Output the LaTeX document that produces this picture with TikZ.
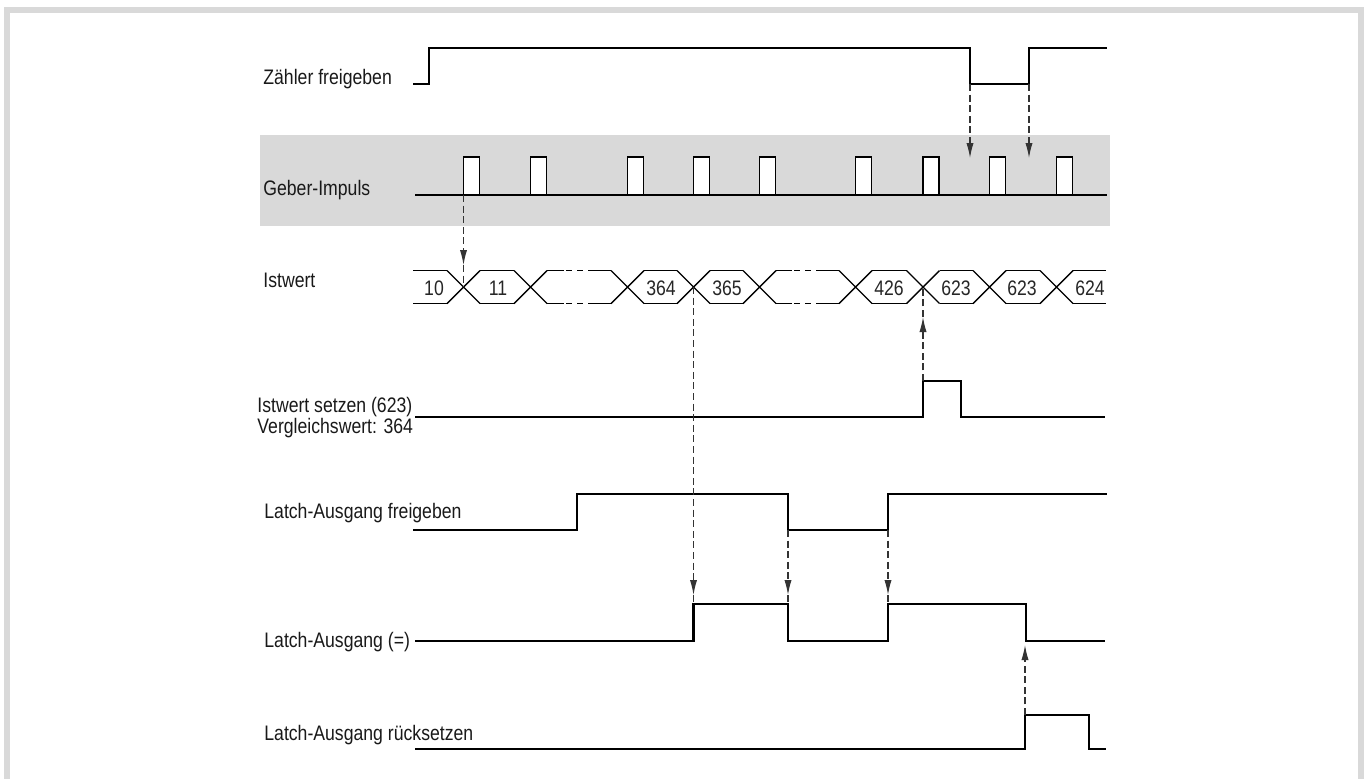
\documentclass[tikz,border=0pt]{standalone}
\usepackage{fontspec}
\setmainfont{Liberation Sans}[FakeStretch=0.84]
\usetikzlibrary{arrows.meta}

\begin{document}
\begin{tikzpicture}[x=0.5pt,y=-0.5pt,font=\fontsize{10.5}{12}\selectfont,
  sig/.style={line width=1.3pt,line join=miter},
  bus/.style={line width=0.7pt},
  pulse/.style={draw,line width=0.7pt,fill=white},
  lbl/.style={anchor=base west,inner sep=0pt,text=black!90},
  val/.style={anchor=base,inner sep=0pt,text=black!85},
  dline/.style={dash pattern=on 3.5pt off 1.8pt,line width=0.6pt,draw=black!80},
  conn/.style={dline,-{Latex[length=7.5pt,width=3.6pt]}}]
\useasboundingbox (0,0) rectangle (1367,778);
% frame and band
\draw[line width=3pt,gray!30] (7,800) -- (7,10) -- (1361,10) -- (1361,800);
\fill[gray!30] (260,135) rectangle (1110,226);

% labels
\node[lbl] (lblzf) at (263,84) {Zähler freigeben};
\node[lbl] (lblgp) at (263,195) {Geber-Impuls};
\node[lbl] (lbliw) at (263,287) {Istwert};
\node[lbl] (lblset) at (257,412) {Istwert setzen (623)};
\node[lbl] (lblcmp) at (257,433) {Vergleichswert: 364};
\node[lbl] (lbllf) at (264,518) {Latch-Ausgang freigeben};
\node[lbl] (lbllq) at (264,647) {Latch-Ausgang (=)};
\node[lbl] (lbllr) at (264,740) {Latch-Ausgang rücksetzen};

% signals
\draw[sig] (413,84) -- (429,84) -- (429,48) -- (970,48) -- (970,84) -- (1029,84) -- (1029,48) -- (1107,48);
\draw[sig] (415,195) -- (1107,195);
\draw[pulse] (463.5,157) rectangle +(16,38) (530.5,157) rectangle +(16,38)
  (627.5,157) rectangle +(16,38) (693.5,157) rectangle +(16,38)
  (759.5,157) rectangle +(16,38) (855.5,157) rectangle +(16,38)
  (923,157) rectangle +(16,38) (989.5,157) rectangle +(16,38)
  (1056.5,157) rectangle +(16,38);
\draw[sig] (415,417) -- (923,417) -- (923,381) -- (961,381) -- (961,417) -- (1105,417);
\draw[sig] (413,530) -- (577,530) -- (577,494) -- (788,494) -- (788,530) -- (888,530) -- (888,494) -- (1107,494);
\draw[sig] (415,641) -- (693.5,641) -- (693.5,604) -- (788,604) -- (788,641) -- (888,641) -- (888,604) -- (1026,604) -- (1026,641) -- (1105,641);
\draw[sig] (415,749) -- (1025,749) -- (1025,715) -- (1089,715) -- (1089,749) -- (1106,749);

% Istwert bus
\foreach \c in {463.5,530.5,627.5,693.5,759.5,855.5,923,989.5,1056.5}
  \draw[bus] (\c-16.5,270.5) -- (\c+16.5,303.5) (\c-16.5,303.5) -- (\c+16.5,270.5);
\foreach \a/\b in {413/447,480/514,644/677,710/743,872/906.5,939.5/973,1006/1040,1073/1106}
  \draw[bus] (\a,270.5) -- (\b,270.5) (\a,303.5) -- (\b,303.5);
\draw[bus] (547,270.5) -- (564,270.5) (593,270.5) -- (611,270.5)
  (547,303.5) -- (564,303.5) (593,303.5) -- (611,303.5)
  (776,270.5) -- (792,270.5) (822,270.5) -- (839,270.5)
  (776,303.5) -- (792,303.5) (822,303.5) -- (839,303.5);
\draw[bus,dash pattern=on 3pt off 2.5pt] (566,270.5) -- (593,270.5) (566,303.5) -- (593,303.5)
  (794,270.5) -- (822,270.5) (794,303.5) -- (822,303.5);
\node[val] (v10) at (434,295) {10};
\node[val] (v11) at (498,295) {11};
\node[val] (v364) at (661,295) {364};
\node[val] (v365) at (727,295) {365};
\node[val] (v426) at (889,295) {426};
\node[val] (v623a) at (956,295) {623};
\node[val] (v623b) at (1022,295) {623};
\node[val] (v624) at (1090,295) {624};

% events
\coordinate (gp1) at (463.5,195);
\coordinate (c10) at (463.5,287);
\coordinate (c364) at (693.5,287);
\coordinate (c426) at (923,287);
\coordinate (zf) at (970,84);
\coordinate (zr) at (1029,84);
\coordinate (sr) at (923,381);
\coordinate (lff) at (788,530);
\coordinate (lfr) at (888,530);
\coordinate (lqr) at (693.5,604);
\coordinate (lqf) at (788,604);
\coordinate (lqr2) at (888,604);
\coordinate (lrr) at (1025,715);
\coordinate (t1) at (463.5,265);
\coordinate (t2) at (693.5,595);
\coordinate (t3) at (788,595);
\coordinate (t4) at (888,595);
\coordinate (t5) at (923,317);

% connectors
\draw[conn] (gp1) -- (t1);
\draw[dline] (t1) -- (c10);
\draw[conn] (zf) -- (970,158);
\draw[conn] (zr) -- (1029,158);
\draw[conn] (sr) -- (t5);
\draw[dline] (t5) -- (c426);
\draw[conn] (c364) -- (t2);
\draw[dline] (t2) -- (lqr);
\draw[conn] (lff) -- (t3);
\draw[dline] (t3) -- (lqf);
\draw[conn] (lfr) -- (t4);
\draw[dline] (t4) -- (lqr2);
\draw[conn] (lrr) -- (1025,645);
\end{tikzpicture}
\end{document}
